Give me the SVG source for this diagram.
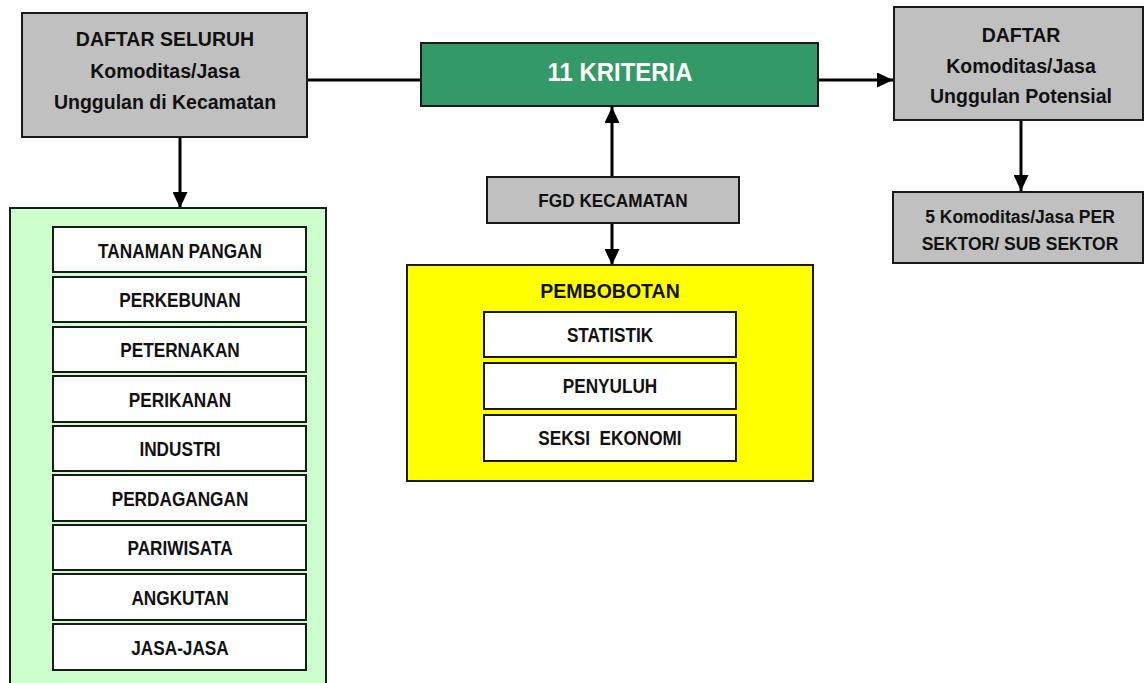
<svg xmlns="http://www.w3.org/2000/svg" width="1144" height="683" viewBox="0 0 1144 683">
<style>
text{font-family:"Liberation Sans",Arial,sans-serif;font-weight:bold;text-anchor:middle;fill:#111}
.gray{fill:#c0c0c0;stroke:#1a1a1a;stroke-width:2}
.white{fill:#fff;stroke:#1a1a1a;stroke-width:2}
.big{font-size:19.5px}
.mid{font-size:17.5px}
.li{font-size:21px}
.pb{font-size:20px}
.conn{stroke:#000;stroke-width:3;fill:none}
</style>
<defs>
<marker id="ah" markerUnits="userSpaceOnUse" markerWidth="16" markerHeight="15" refX="16" refY="7.5" orient="auto">
<path d="M0,0 L16,7.5 L0,15 Z" fill="#000"/>
</marker>
</defs>
<g id="connectors">
<line class="conn" x1="307" y1="80" x2="421" y2="80"/>
<line class="conn" x1="818" y1="80" x2="893" y2="80" marker-end="url(#ah)"/>
<line class="conn" x1="180" y1="137" x2="180" y2="208" marker-end="url(#ah)"/>
<line class="conn" x1="1021" y1="120" x2="1021" y2="191" marker-end="url(#ah)"/>
<line class="conn" x1="612" y1="177" x2="612" y2="107" marker-end="url(#ah)"/>
<line class="conn" x1="612" y1="223" x2="612" y2="265" marker-end="url(#ah)"/>
</g>
<g id="daftar-seluruh">
<rect class="gray" x="22" y="13" width="285" height="124"/>
<text class="big" x="165" y="46">DAFTAR SELURUH</text>
<text class="big" x="165" y="78">Komoditas/Jasa</text>
<text class="big" x="165" y="109">Unggulan di Kecamatan</text>
</g>
<g id="kriteria">
<rect x="421" y="43" width="397" height="63" fill="#339966" stroke="#1a1a1a" stroke-width="2"/>
<text transform="translate(620,81) scale(0.92,1)" style="font-size:26px;fill:#fff">11 KRITERIA</text>
</g>
<g id="daftar-potensial">
<rect class="gray" x="894" y="7" width="249" height="113"/>
<text class="big" x="1021" y="42">DAFTAR</text>
<text class="big" x="1021" y="73">Komoditas/Jasa</text>
<text class="big" x="1021" y="103">Unggulan Potensial</text>
</g>
<g id="lima-komoditas">
<rect class="gray" x="893" y="192" width="250" height="71"/>
<text class="mid" x="1020" y="223">5 Komoditas/Jasa PER</text>
<text class="mid" x="1020" y="250">SEKTOR/ SUB SEKTOR</text>
</g>
<g id="fgd">
<rect class="gray" x="487" y="177" width="252" height="46"/>
<text transform="translate(613,207) scale(0.93,1)" style="font-size:18.5px">FGD KECAMATAN</text>
</g>
<g id="pembobotan">
<rect x="407" y="265" width="406" height="216" fill="#ffff00" stroke="#1a1a1a" stroke-width="2"/>
<text transform="translate(610,298) scale(0.93,1)" style="font-size:21px">PEMBOBOTAN</text>
<rect class="white" x="484" y="312" width="252" height="45"/>
<text class="pb" transform="translate(610,342) scale(0.86,1)">STATISTIK</text>
<rect class="white" x="484" y="363" width="252" height="46"/>
<text class="pb" transform="translate(610,393) scale(0.86,1)">PENYULUH</text>
<rect class="white" x="484" y="415" width="252" height="46"/>
<text class="pb" transform="translate(610,445) scale(0.86,1)">SEKSI&#160; EKONOMI</text>
</g>
<g id="sektor">
<rect x="10" y="208" width="316" height="485" fill="#ccffcc" stroke="#1a1a1a" stroke-width="2"/>
<rect class="white" x="53" y="227" width="253" height="45"/>
<text class="li" transform="translate(180,257.5) scale(0.82,1)">TANAMAN PANGAN</text>
<rect class="white" x="53" y="277" width="253" height="45"/>
<text class="li" transform="translate(180,307) scale(0.82,1)">PERKEBUNAN</text>
<rect class="white" x="53" y="327" width="253" height="45"/>
<text class="li" transform="translate(180,357) scale(0.82,1)">PETERNAKAN</text>
<rect class="white" x="53" y="376" width="253" height="46"/>
<text class="li" transform="translate(180,406.5) scale(0.82,1)">PERIKANAN</text>
<rect class="white" x="53" y="426" width="253" height="45"/>
<text class="li" transform="translate(180,456) scale(0.82,1)">INDUSTRI</text>
<rect class="white" x="53" y="475" width="253" height="46"/>
<text class="li" transform="translate(180,505.5) scale(0.82,1)">PERDAGANGAN</text>
<rect class="white" x="53" y="525" width="253" height="45"/>
<text class="li" transform="translate(180,555) scale(0.82,1)">PARIWISATA</text>
<rect class="white" x="53" y="574" width="253" height="46"/>
<text class="li" transform="translate(180,604.5) scale(0.82,1)">ANGKUTAN</text>
<rect class="white" x="53" y="624" width="253" height="46"/>
<text class="li" transform="translate(180,654.5) scale(0.82,1)">JASA-JASA</text>
</g>
</svg>
